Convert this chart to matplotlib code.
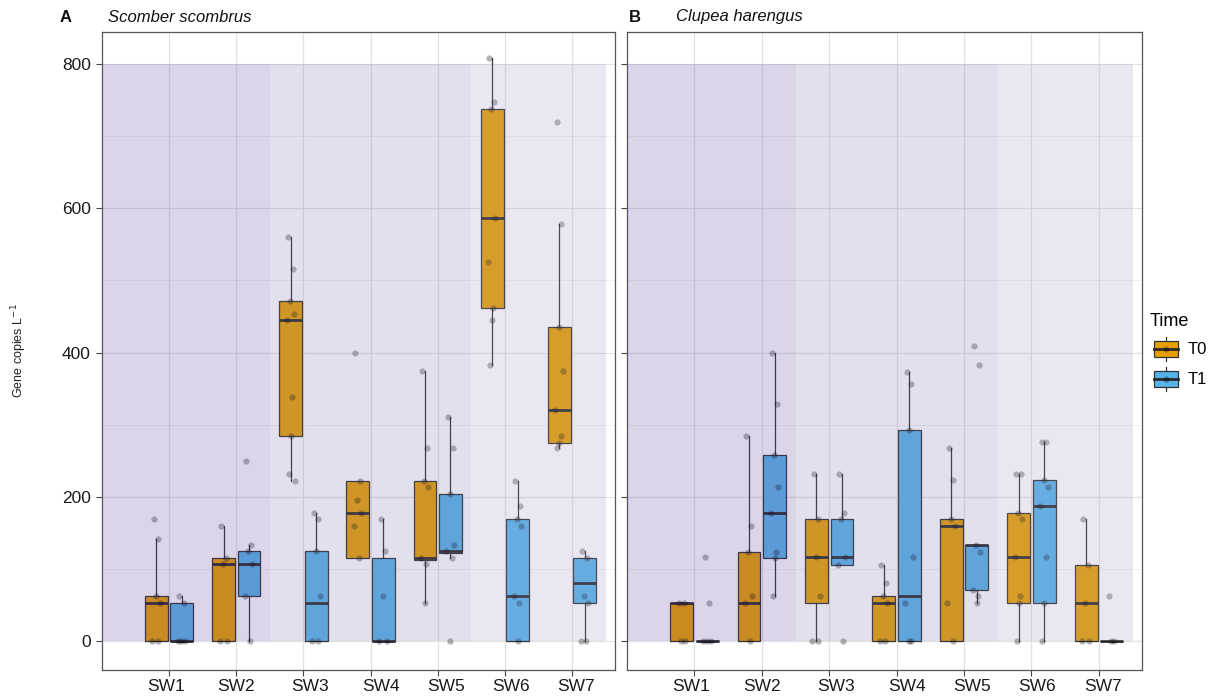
import matplotlib
matplotlib.use("Agg")
import matplotlib.pyplot as plt
from matplotlib.patches import Rectangle, Patch
from matplotlib.lines import Line2D
from matplotlib.legend_handler import HandlerBase
from matplotlib.transforms import ScaledTranslation

plt.rcParams['font.family'] = ['Liberation Sans', 'DejaVu Sans']

categories = ['SW1', 'SW2', 'SW3', 'SW4', 'SW5', 'SW6', 'SW7']
times = ['T0', 'T1']
titles = ['Scomber scombrus', 'Clupea harengus']
panel_tags = ['A', 'B']
y_ticks = [0, 200, 400, 600, 800]

# box statistics per site: (lower whisker, q1, median, q3, upper whisker)
scomber_T0_box = [(0, 0, 53, 62, 142), (0, 0, 107, 115, 160), (222, 284, 445, 472, 560),
                  (115, 115, 178, 222, 222), (53, 113, 115, 222, 374), (382, 462, 587, 738, 808),
                  (267, 275, 320, 436, 578)]
scomber_T1_box = [(0, 0, 0, 53, 62), (0, 62, 107, 125, 133), (0, 0, 53, 125, 178),
                  (0, 0, 0, 115, 169), (115, 122, 125, 204, 311), (0, 0, 62, 169, 222),
                  (0, 53, 80, 115, 125)]
clupea_T0_box = [(0, 0, 53, 53, 53), (0, 0, 53, 124, 284), (0, 53, 116, 169, 231),
                 (0, 0, 53, 62, 106), (0, 0, 160, 169, 267), (0, 53, 116, 178, 231),
                 (0, 0, 53, 106, 169)]
clupea_T1_box = [(0, 0, 0, 0, 0), (62, 115, 178, 258, 400), (106, 106, 116, 169, 231),
                 (0, 0, 62, 293, 373), (53, 71, 133, 133, 133), (0, 53, 187, 223, 276),
                 (0, 0, 0, 0, 0)]

# individual observations per site
scomber_T0_pts = [[169, 142, 62, 53, 0, 0], [160, 115, 107, 0, 0],
                  [560, 516, 472, 454, 445, 338, 284, 231, 222],
                  [400, 222, 196, 178, 160, 115], [374, 267, 222, 214, 115, 107, 53],
                  [808, 747, 738, 587, 525, 462, 445, 382],
                  [720, 578, 436, 374, 320, 284, 275, 267]]
scomber_T1_pts = [[62, 53, 0, 0, 0], [249, 133, 125, 107, 62, 0], [178, 169, 125, 62, 0, 0],
                  [169, 125, 62, 0, 0], [311, 267, 204, 133, 125, 115, 0],
                  [222, 187, 169, 160, 62, 53, 0], [125, 115, 62, 53, 0, 0]]
clupea_T0_pts = [[53, 53, 0, 0], [284, 160, 124, 62, 53, 0], [231, 169, 116, 62, 0, 0],
                 [106, 80, 62, 53, 0, 0], [267, 223, 169, 160, 53, 0],
                 [231, 231, 178, 169, 116, 62, 53, 0], [169, 106, 53, 0, 0]]
clupea_T1_pts = [[116, 53, 0, 0, 0], [400, 329, 258, 213, 178, 124, 115, 62],
                 [231, 178, 169, 116, 106, 0], [373, 356, 293, 116, 53, 0, 0],
                 [409, 382, 133, 124, 71, 62, 53], [276, 276, 223, 213, 187, 116, 53, 0],
                 [62, 0, 0]]

# background zones (site groups)
zone_edges = [(0, 2.5), (2.5, 5.5), (5.5, 7.5)]
zone_colors = ['#64409A', '#8072B2', '#A096C8']
zone_top = 800

time_colors = {'T0': '#E69F00', 'T1': '#56B4E9'}
jitter = [-0.04, 0.03, -0.01, 0.05, -0.06, 0.02, 0.0, -0.03, 0.06]
label_shift_px = [-3, 0, 7, 10, 8, 6, 4]

W, H = 1216, 696
fig = plt.figure(figsize=(W / 100, H / 100), dpi=100)


def fx(px):
    return px / W


def fy(py):
    return 1 - py / H


axA = fig.add_axes([fx(102), fy(670), fx(615) - fx(102), fy(32) - fy(670)])
axB = fig.add_axes([fx(627), fy(670), fx(1142) - fx(627), fy(32) - fy(670)])

panels = [
    (axA, {'T0': (scomber_T0_box, scomber_T0_pts), 'T1': (scomber_T1_box, scomber_T1_pts)}),
    (axB, {'T0': (clupea_T0_box, clupea_T0_pts), 'T1': (clupea_T1_box, clupea_T1_pts)}),
]

dodge = {'T0': -0.19, 'T1': 0.19}
box_w = 0.34
edge = '#333333'

for i, (ax, data) in enumerate(panels):
    ax.set_xlim(0, 7.64)
    ax.set_ylim(-40.2, 844.4)
    ax.set_axisbelow(True)
    ax.set_xticks(range(1, len(categories) + 1))
    ax.set_yticks(y_ticks)
    ax.set_yticks([100, 300, 500, 700], minor=True)
    ax.grid(True, which='major', color='#E2E2E2', linewidth=0.9)
    ax.grid(True, which='minor', axis='y', color='#ECECEC', linewidth=0.6)
    for sp in ax.spines.values():
        sp.set_color('#555555')
        sp.set_linewidth(0.9)
    ax.tick_params(axis='both', which='major', length=4, width=0.8, color='#444444',
                   labelsize=12.5, labelcolor='#1a1a1a')
    ax.tick_params(axis='x', pad=2.5)
    ax.tick_params(axis='y', pad=4)
    ax.tick_params(which='minor', length=0)
    ax.set_xticklabels(categories)
    for lab, dx in zip(ax.get_xticklabels(), label_shift_px):
        lab.set_transform(lab.get_transform() + ScaledTranslation(dx / 100, 0, fig.dpi_scale_trans))
    if i == 1:
        ax.set_yticklabels([])

    for t in times:
        stats_list, pts_list = data[t]
        stats = []
        pos = []
        for k, (lo, q1, med, q3, hi) in enumerate(stats_list):
            stats.append({'whislo': lo, 'q1': q1, 'med': med, 'q3': q3, 'whishi': hi,
                          'fliers': []})
            pos.append(k + 1 + dodge[t])
        ax.bxp(stats, positions=pos, widths=box_w, patch_artist=True,
               showfliers=False, showcaps=False, manage_ticks=False,
               boxprops=dict(facecolor=time_colors[t], edgecolor=edge, linewidth=0.9),
               medianprops=dict(color='#2a2a2a', linewidth=2.0),
               whiskerprops=dict(color=edge, linewidth=0.9))
        for k, vals in enumerate(pts_list):
            xs = [k + 1 + dodge[t] + jitter[j % len(jitter)] for j in range(len(vals))]
            ax.scatter(xs, vals, s=20, color='black', alpha=0.3, linewidths=0, zorder=3.5)

    for (x0, x1), c in zip(zone_edges, zone_colors):
        ax.add_patch(Rectangle((x0, 0), x1 - x0, zone_top, facecolor=c, alpha=0.22,
                               edgecolor='none', zorder=4))

    tag_x = 60 if i == 0 else 629
    title_x = 108 if i == 0 else 676
    fig.text(fx(tag_x), fy(17), panel_tags[i], fontsize=12, fontweight='bold',
             va='center', ha='left', color='#111111')
    fig.text(fx(title_x), fy(17), titles[i], fontsize=12, fontstyle='italic',
             va='center', ha='left', color='#111111')

fig.text(fx(19), fy(351), 'Gene copies L$^{-1}$', rotation=90, fontsize=9,
         va='center', ha='center', color='#222222')


class BoxKeyHandler(HandlerBase):
    def create_artists(self, legend, orig_handle, xdescent, ydescent, width, height,
                       fontsize, trans):
        fc = orig_handle.get_facecolor()
        x0 = -xdescent
        y0 = -ydescent
        bw = width * 0.82
        bx = x0 + width - bw
        bh = height * 0.68
        by = y0 + (height - bh) / 2
        cx = bx + bw / 2
        cy = y0 + height / 2
        arts = [
            Line2D([cx, cx], [y0 - height * 0.02, by], color=edge, lw=0.9, transform=trans),
            Line2D([cx, cx], [by + bh, y0 + height * 1.02], color=edge, lw=0.9, transform=trans),
            Rectangle((bx, by), bw, bh, facecolor=fc, edgecolor=edge, lw=0.9, transform=trans),
            Line2D([bx, bx + bw], [cy, cy], color='#2a2a2a', lw=2.0, transform=trans),
            Line2D([cx], [cy], marker='o', markersize=4.5, color='black', alpha=0.3,
                   markeredgewidth=0, transform=trans),
        ]
        return arts


handles = [Patch(facecolor=time_colors[t]) for t in times]
leg = fig.legend(handles, times, title='Time', loc='upper left',
                 bbox_to_anchor=(fx(1136), fy(300)), frameon=False, fontsize=12,
                 title_fontsize=13, handler_map={Patch: BoxKeyHandler()},
                 handlelength=1.7, handleheight=1.7, handletextpad=0.6, labelspacing=0.45,
                 borderpad=0.3)
leg._legend_box.align = 'left'

fig.savefig('out.png', dpi=100)
